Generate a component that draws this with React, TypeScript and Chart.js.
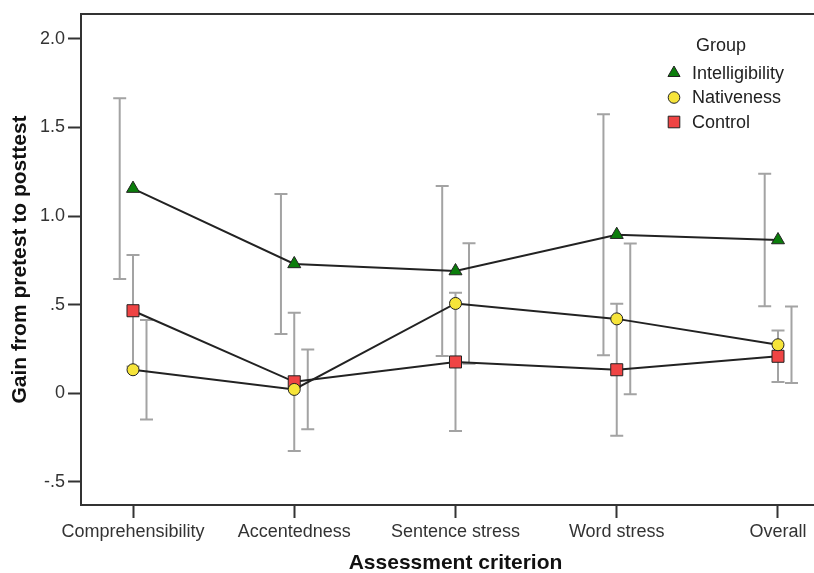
import React, { useEffect, useRef } from 'react';
import { Chart, registerables } from 'chart.js';

Chart.register(...registerables);

// ---- Data ----
const categories = ['Comprehensibility', 'Accentedness', 'Sentence stress', 'Word stress', 'Overall'];
const xTickValues = [0, 1, 2, 3, 4];
const yTickValues = [-0.5, 0, 0.5, 1, 1.5, 2];
const yTickLabels = ['-.5', '0', '.5', '1.0', '1.5', '2.0'];

const groupNames = ['Intelligibility', 'Nativeness', 'Control'];
const intelligibility = [1.155, 0.73, 0.69, 0.895, 0.865];
const intelligibilityErr = [0.51, 0.395, 0.48, 0.68, 0.374];
const nativeness = [0.133, 0.022, 0.507, 0.42, 0.274];
const nativenessErr = [0.28, 0.225, 0.34, 0.425, 0.216];
const control = [0.466, 0.065, 0.177, 0.133, 0.209];
const controlErr = [0.314, 0.39, 0.39, 0.372, 0.145];

const FONT = "Arial, 'Liberation Sans', Helvetica, sans-serif";
const AXIS_COLOR = '#333333';
const LINE_COLOR = '#222222';
const ERR_COLOR = '#a3a3a3';
const COLORS = ['#0b7d0b', '#f6e43a', '#ef4444'];
const STYLES = ['triangle', 'circle', 'rect'];
const RADII = [7.5, 6, 8.5];
const ERR_OFFSETS = [-13.3, 13.5, 0]; // pixel offsets of error bars from marker

function drawMarker(ctx: CanvasRenderingContext2D, style: string, x: number, y: number, r: number, fill: string) {
  ctx.beginPath();
  if (style === 'triangle') {
    ctx.moveTo(x, y - r);
    ctx.lineTo(x + r * 0.8660254, y + r / 2);
    ctx.lineTo(x - r * 0.8660254, y + r / 2);
    ctx.closePath();
  } else if (style === 'circle') {
    ctx.arc(x, y, r, 0, Math.PI * 2);
  } else {
    const s = Math.SQRT1_2 * r;
    ctx.rect(x - s, y - s, 2 * s, 2 * s);
  }
  ctx.fillStyle = fill;
  ctx.fill();
  ctx.lineWidth = 1;
  ctx.strokeStyle = LINE_COLOR;
  ctx.stroke();
}

const errorBarPlugin = {
  id: 'errorBars',
  beforeDatasetsDraw(chart: any) {
    const ctx = chart.ctx as CanvasRenderingContext2D;
    const xs = chart.scales.x;
    const ys = chart.scales.y;
    ctx.save();
    ctx.strokeStyle = ERR_COLOR;
    ctx.lineWidth = 2;
    chart.data.datasets.forEach((ds: any, d: number) => {
      const errs: number[] = ds.errors;
      ds.data.forEach((pt: any, i: number) => {
        const x = xs.getPixelForValue(pt.x) + ERR_OFFSETS[d];
        const yt = ys.getPixelForValue(pt.y + errs[i]);
        const yb = ys.getPixelForValue(pt.y - errs[i]);
        ctx.beginPath();
        ctx.moveTo(x, yt);
        ctx.lineTo(x, yb);
        ctx.moveTo(x - 6.5, yt);
        ctx.lineTo(x + 6.5, yt);
        ctx.moveTo(x - 6.5, yb);
        ctx.lineTo(x + 6.5, yb);
        ctx.stroke();
      });
    });
    ctx.restore();
  },
};

const framePlugin = {
  id: 'frameAndLegend',
  afterDraw(chart: any) {
    const ctx = chart.ctx as CanvasRenderingContext2D;
    const a = chart.chartArea;
    ctx.save();
    // top border
    ctx.strokeStyle = AXIS_COLOR;
    ctx.lineWidth = 2;
    ctx.beginPath();
    ctx.moveTo(a.left - 1, a.top);
    ctx.lineTo(a.right, a.top);
    ctx.stroke();

    // legend
    ctx.fillStyle = '#222';
    ctx.font = `18px ${FONT}`;
    ctx.textBaseline = 'middle';
    ctx.textAlign = 'left';
    ctx.fillText('Group', 696, 46);
    const ys = [73, 97.5, 122];
    groupNames.forEach((name, k) => {
      drawMarker(ctx, STYLES[k], 674, ys[k], k === 0 ? 7 : k === 1 ? 5.8 : 8.2, COLORS[k]);
      ctx.fillStyle = '#222';
      ctx.fillText(name, 692, ys[k] + 1);
    });
    ctx.restore();
  },
};

export default function App() {
  const ref = useRef<HTMLCanvasElement | null>(null);

  useEffect(() => {
    if (!ref.current) return;
    const series = [intelligibility, nativeness, control];
    const errs = [intelligibilityErr, nativenessErr, controlErr];
    const chart = new Chart(ref.current, {
      type: 'line',
      data: {
        datasets: series.map((vals, k) => ({
          label: groupNames[k],
          data: vals.map((v, i) => ({ x: xTickValues[i], y: v })),
          errors: errs[k],
          borderColor: LINE_COLOR,
          borderWidth: 2,
          pointStyle: STYLES[k],
          pointRadius: RADII[k],
          pointHoverRadius: RADII[k],
          pointBackgroundColor: COLORS[k],
          pointBorderColor: LINE_COLOR,
          pointBorderWidth: 1,
          tension: 0,
          fill: false,
        })) as any,
      },
      options: {
        animation: false,
        responsive: false,
        maintainAspectRatio: false,
        devicePixelRatio: 1,
        layout: { autoPadding: false, padding: { top: 14, left: 0, right: 0, bottom: 0 } },
        plugins: { legend: { display: false }, tooltip: { enabled: false } },
        events: [],
        scales: {
          x: {
            type: 'linear',
            min: -0.3225,
            max: 4.3225,
            afterBuildTicks: (s: any) => {
              s.ticks = xTickValues.map((v) => ({ value: v }));
            },
            afterFit: (s: any) => {
              s.height = 71;
              s.paddingLeft = 0;
              s.paddingRight = 0;
            },
            ticks: {
              autoSkip: false,
              maxRotation: 0,
              padding: 3,
              color: AXIS_COLOR,
              font: { family: FONT, size: 18 },
              callback: (_v: any, i: number) => categories[i],
            },
            grid: {
              drawOnChartArea: false,
              drawTicks: true,
              tickLength: 13,
              tickWidth: 2,
              tickColor: AXIS_COLOR,
            },
            border: { display: true, color: AXIS_COLOR, width: 2 },
            title: {
              display: true,
              text: 'Assessment criterion',
              color: '#111',
              font: { family: FONT, size: 21, weight: 'bold' },
              padding: { top: 0, bottom: 0 },
            },
          },
          y: {
            type: 'linear',
            min: -0.63,
            max: 2.14,
            afterBuildTicks: (s: any) => {
              s.ticks = yTickValues.map((v) => ({ value: v }));
            },
            afterFit: (s: any) => {
              s.width = 81;
              s.paddingTop = 0;
              s.paddingBottom = 0;
            },
            ticks: {
              padding: 3,
              color: AXIS_COLOR,
              font: { family: FONT, size: 18 },
              callback: (_v: any, i: number) => yTickLabels[i],
            },
            grid: {
              drawOnChartArea: false,
              drawTicks: true,
              tickLength: 13,
              tickWidth: 2,
              tickColor: AXIS_COLOR,
            },
            border: { display: true, color: AXIS_COLOR, width: 2 },
            title: {
              display: true,
              text: 'Gain from pretest to posttest',
              color: '#111',
              font: { family: FONT, size: 21, weight: 'bold' },
              padding: { top: 8, bottom: 0 },
            },
          },
        },
      } as any,
      plugins: [errorBarPlugin, framePlugin],
    });
    return () => chart.destroy();
  }, []);

  return (
    <div style={{ position: 'fixed', left: 0, top: 0, width: 814, height: 573, overflow: 'hidden', background: '#fff' }}>
      <canvas ref={ref} width={830} height={576} style={{ display: 'block', width: 830, height: 576 }} />
    </div>
  );
}
